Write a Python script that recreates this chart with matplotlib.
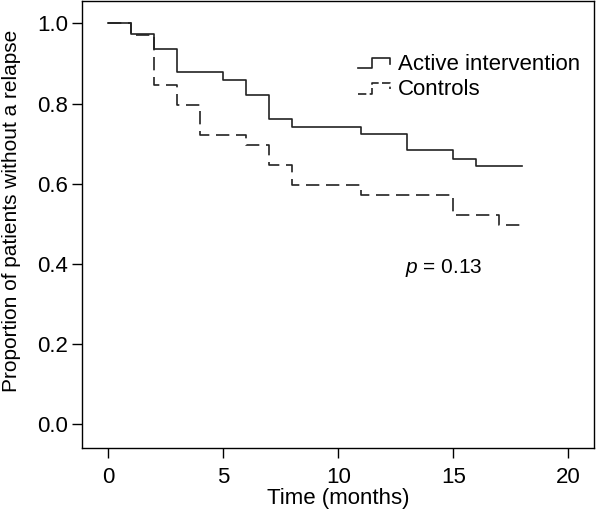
import numpy as np
import matplotlib
matplotlib.use("Agg")
import matplotlib.pyplot as plt
from matplotlib.legend_handler import HandlerLine2D
from matplotlib.lines import Line2D

plt.rcParams['font.family'] = ['Liberation Sans', 'DejaVu Sans']
plt.rcParams['mathtext.fontset'] = 'custom'
plt.rcParams['mathtext.it'] = 'Liberation Sans:italic'
plt.rcParams['mathtext.rm'] = 'Liberation Sans'

# Kaplan-Meier step data
active_t = [0, 1, 2, 3, 5, 6, 7, 8, 11, 13, 15, 16, 18]
active_s = [1.0, 0.973, 0.937, 0.878, 0.858, 0.822, 0.762, 0.742, 0.723, 0.683, 0.662, 0.643, 0.643]

control_t = [0, 1, 2, 3, 4, 6, 7, 8, 11, 15, 17, 18]
control_s = [1.0, 0.970, 0.847, 0.797, 0.722, 0.697, 0.646, 0.597, 0.571, 0.522, 0.497, 0.497]

labels = ["Active intervention", "Controls"]
p_text = r"$p$ = 0.13"

col = "#222222"
fs = 16


class StepHandler(HandlerLine2D):
    # legend symbol drawn as a little step
    def create_artists(self, legend, orig_handle, xdescent, ydescent,
                       width, height, fontsize, trans):
        x0 = -xdescent
        xs = [x0, x0 + 0.45 * width, x0 + 0.45 * width, x0 + width, x0 + width]
        yl = -ydescent + 0.1 * height
        yh = -ydescent + 0.8 * height
        ys = [yl, yl, yh, yh, 0.4 * height - ydescent]
        ln = Line2D(xs, ys, color=orig_handle.get_color(),
                    linewidth=orig_handle.get_linewidth(),
                    linestyle=orig_handle.get_linestyle())
        if orig_handle.get_linestyle() != '-':
            ln.set_dashes((5, 2))
        ln.set_transform(trans)
        return [ln]


fig = plt.figure(figsize=(5.96, 5.16), dpi=100)
ax = fig.add_axes([0.138, 0.1324, 0.8586, 0.8656])

l1, = ax.step(active_t, active_s, where='post', color=col, lw=1.2, label=labels[0])
l2, = ax.step(control_t, control_s, where='post', color=col, lw=1.2,
              ls=(0, (8, 4)), label=labels[1])

ax.set_xlim(-1.13, 21.12)
ax.set_ylim(-0.059, 1.056)
ax.set_xticks([0, 5, 10, 15, 20])
ax.set_yticks(np.arange(0, 1.01, 0.2))
ax.set_yticklabels([f"{v:.1f}" for v in np.arange(0, 1.01, 0.2)])
ax.tick_params(direction='out', length=7, width=1, labelsize=fs)
ax.tick_params(axis='x', pad=7)
ax.tick_params(axis='y', pad=3)

for s in ax.spines.values():
    s.set_linewidth(1)

ax.set_xlabel("Time (months)", fontsize=fs, labelpad=0)
ax.set_ylabel("Proportion of patients without a relapse", fontsize=15)
ax.yaxis.set_label_coords(-0.12, 0.53)

ax.text(12.9, 0.39, p_text, fontsize=15, va='center', ha='left')

leg = ax.legend(handles=[l1, l2], loc='upper left',
                bbox_to_anchor=(358 / 596, 462 / 516), bbox_transform=fig.transFigure,
                frameon=False, fontsize=fs, handler_map={Line2D: StepHandler()},
                handlelength=1.44, handletextpad=0.35, labelspacing=0.19,
                borderpad=0, borderaxespad=0)

fig.savefig("out.png", dpi=100)
